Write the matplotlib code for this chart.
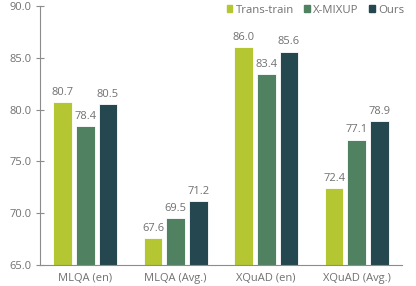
import numpy as np
import matplotlib.pyplot as plt
from matplotlib.patches import Patch

categories = ['MLQA (en)', 'MLQA (Avg.)', 'XQuAD (en)', 'XQuAD (Avg.)']
trans_train = [80.7, 67.6, 86.0, 72.4]
x_mixup = [78.4, 69.5, 83.4, 77.1]
ours = [80.5, 71.2, 85.6, 78.9]
series = ['Trans-train', 'X-MIXUP', 'Ours']
colors = ['#b5c633', '#508262', '#25474f']
yticks = [65.0, 70.0, 75.0, 80.0, 85.0, 90.0]

plt.rcParams['font.family'] = ['Open Sans', 'DejaVu Sans']
txt = '#707070'

fig = plt.figure(figsize=(4.16, 2.86), dpi=100)
ax = fig.add_axes([40 / 416, 21 / 286, 362 / 416, 259 / 286])

x = np.arange(len(categories))
width = 0.205
step = 0.25
for i, (vals, c) in enumerate(zip([trans_train, x_mixup, ours], colors)):
    pos = x + (i - 1) * step
    ax.bar(pos, vals, width, color=c, edgecolor='white', linewidth=0.6,
           bottom=0, zorder=2)
    for p, v in zip(pos, vals):
        ax.annotate(f'{v:.1f}', (p, v), xytext=(0, 3), textcoords='offset points',
                    ha='center', va='bottom', fontsize=8, color=txt)

ax.set_ylim(65, 90)
ax.set_xlim(-0.5, 3.5)
ax.set_yticks(yticks)
ax.set_yticklabels([f'{t:.1f}' for t in yticks])
ax.set_xticks(x)
ax.set_xticklabels(categories)
for s in ['top', 'right']:
    ax.spines[s].set_visible(False)
for s in ['left', 'bottom']:
    ax.spines[s].set_color('#8c8c8c')
    ax.spines[s].set_linewidth(0.8)
ax.tick_params(axis='y', direction='inout', length=6, width=0.8, color='#8c8c8c',
               labelsize=8, labelcolor=txt, pad=3)
ax.tick_params(axis='x', direction='in', length=3, width=0.8, color='#8c8c8c',
               labelsize=8, labelcolor=txt, pad=6)

handles = [Patch(color=c) for c in colors]
ax.legend(handles, series, loc='upper right', bbox_to_anchor=(1.035, 1.045), ncol=3,
          frameon=False, fontsize=8.2, labelcolor=txt, handlelength=0.5,
          handleheight=0.5, handletextpad=0.3, columnspacing=0.9)

fig.savefig('out.png', dpi=100)
